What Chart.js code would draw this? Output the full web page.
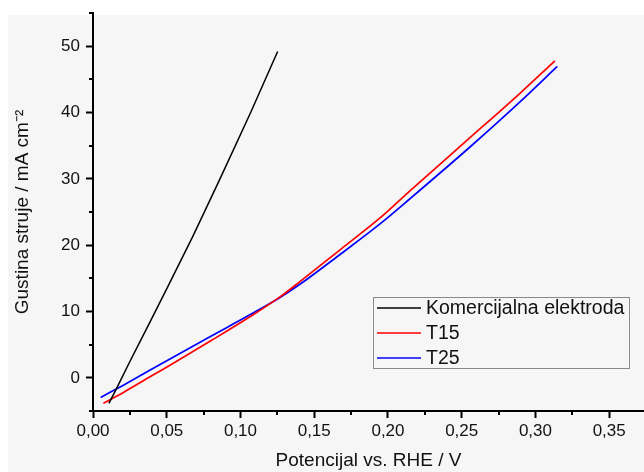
<!DOCTYPE html>
<html>
<head>
<meta charset="utf-8">
<script src="https://cdn.jsdelivr.net/npm/chart.js@4.4.1/dist/chart.umd.min.js"></script>
<style>
  html, body { margin: 0; padding: 0; background: #fff; }
  #wrap { width: 644px; height: 472px; position: relative; }
</style>
</head>
<body>
<div id="wrap"><canvas id="myChart" width="644" height="472"></canvas></div>
<script>
// series (potential in V, current density in mA cm-2)
const seriesNames = ['Komercijalna elektroda', 'T15', 'T25'];
const seriesColors = ['#000000', '#ff0000', '#0000ff'];

const komPotential = [0.0108, 0.016, 0.0251, 0.0386, 0.0504, 0.0676, 0.0861, 0.1069, 0.1252];
const komCurrent   = [-3.85, -1.6, 2.5, 8.4, 13.6, 21.3, 30.0, 40.0, 49.2];

const t15Potential = [0.0070, 0.0206, 0.0398, 0.0522, 0.0793, 0.1064, 0.1268, 0.1403, 0.1675, 0.1946, 0.2149, 0.2556, 0.2895, 0.3132];
const t15Current   = [-3.85, -2.2, 0.3, 1.9, 5.5, 9.2, 12.2, 14.5, 19.3, 24.1, 28.2, 36.2, 42.9, 47.8];

const t25Potential = [0.0052, 0.0206, 0.0319, 0.0522, 0.0793, 0.1064, 0.1268, 0.1403, 0.1675, 0.1946, 0.2149, 0.2556, 0.2895, 0.3148];
const t25Current   = [-2.95, -1.1, 0.3, 2.85, 6.2, 9.5, 12.1, 14.1, 18.6, 23.2, 27.0, 34.8, 41.6, 46.95];

// axis ticks (major ones get labels, the rest are minor)
const xTickValues = [0, 0.025, 0.05, 0.075, 0.1, 0.125, 0.15, 0.175, 0.2, 0.225, 0.25, 0.275, 0.3, 0.325, 0.35];
const xMajorTicks = [0, 0.05, 0.1, 0.15, 0.2, 0.25, 0.3, 0.35];
const yTickValues = [-5, 0, 5, 10, 15, 20, 25, 30, 35, 40, 45, 50, 55];
const yMajorTicks = [0, 10, 20, 30, 40, 50];

const xTitle = 'Potencijal vs. RHE / V';
const yTitle = 'Gustina struje / mA cm\u207B\u00B2';

function toPoints(xs, ys) {
  return xs.map((x, i) => ({ x: x, y: ys[i] }));
}
function isMajor(list, v) {
  return list.some(m => Math.abs(m - v) < 1e-9);
}

const FONT = 'Liberation Sans, Arial, sans-serif';

// light grey backdrop like the exported figure
const backdrop = {
  id: 'backdrop',
  beforeDraw(chart) {
    const ctx = chart.ctx;
    ctx.save();
    ctx.fillStyle = '#f6f6f6';
    ctx.fillRect(8, 15, chart.width - 8, chart.height - 15);
    ctx.restore();
  }
};

// short outward minor ticks
const minorTicks = {
  id: 'minorTicks',
  afterDraw(chart) {
    const ctx = chart.ctx;
    const xs = chart.scales.x, ys = chart.scales.y;
    ctx.save();
    ctx.strokeStyle = '#000';
    ctx.lineWidth = 2;
    ctx.beginPath();
    xTickValues.forEach(v => {
      if (isMajor(xMajorTicks, v)) return;
      const px = Math.round(xs.getPixelForValue(v));
      ctx.moveTo(px, xs.top);
      ctx.lineTo(px, xs.top + 4);
    });
    yTickValues.forEach(v => {
      if (isMajor(yMajorTicks, v)) return;
      const py = Math.round(ys.getPixelForValue(v));
      ctx.moveTo(ys.right, py);
      ctx.lineTo(ys.right - 4, py);
    });
    ctx.stroke();
    ctx.restore();
  }
};

// boxed legend inside the plot, lower right
const boxLegend = {
  id: 'boxLegend',
  afterDatasetsDraw(chart) {
    const ctx = chart.ctx;
    const area = chart.chartArea;
    const x0 = area.left + 280, y0 = area.top + 284;
    const w = 256, h = 71;
    ctx.save();
    ctx.fillStyle = '#f6f6f6';
    ctx.fillRect(x0, y0, w, h);
    ctx.strokeStyle = '#8a8a8a';
    ctx.lineWidth = 1;
    ctx.strokeRect(x0 + 0.5, y0 + 0.5, w, h);
    ctx.font = '19.5px ' + FONT;
    ctx.textBaseline = 'middle';
    chart.data.datasets.forEach((ds, i) => {
      const yy = y0 + 11 + i * 25;
      ctx.strokeStyle = ds.borderColor;
      ctx.lineWidth = 1.6;
      ctx.beginPath();
      ctx.moveTo(x0 + 4, yy);
      ctx.lineTo(x0 + 48, yy);
      ctx.stroke();
      ctx.fillStyle = '#111';
      ctx.fillText(ds.label, x0 + 53, yy + 1);
    });
    ctx.restore();
  }
};

const ctx = document.getElementById('myChart').getContext('2d');
const myChart = new Chart(ctx, {
  type: 'line',
  data: {
    datasets: [
      { label: seriesNames[0], data: toPoints(komPotential, komCurrent), borderColor: seriesColors[0], borderWidth: 1.5, tension: 0 },
      { label: seriesNames[1], data: toPoints(t15Potential, t15Current), borderColor: seriesColors[1], borderWidth: 1.7, cubicInterpolationMode: 'monotone' },
      { label: seriesNames[2], data: toPoints(t25Potential, t25Current), borderColor: seriesColors[2], borderWidth: 1.7, cubicInterpolationMode: 'monotone' }
    ]
  },
  options: {
    responsive: false,
    animation: false,
    devicePixelRatio: 1,
    layout: { padding: { top: 13, right: 0, left: 0, bottom: 0 } },
    elements: { point: { radius: 0 } },
    plugins: { legend: { display: false }, tooltip: { enabled: false } },
    scales: {
      x: {
        type: 'linear',
        min: 0,
        max: 0.3736,
        afterBuildTicks: s => { s.ticks = xTickValues.map(v => ({ value: v })); },
        afterFit: s => { s.height = 61; s.paddingLeft = 0; s.paddingRight = 0; },
        grid: {
          drawOnChartArea: false,
          tickLength: 7,
          tickWidth: 2,
          tickColor: c => isMajor(xMajorTicks, c.tick.value) ? '#000' : 'rgba(0,0,0,0)'
        },
        border: { display: true, color: '#000', width: 2 },
        ticks: {
          padding: 3,
          maxRotation: 0,
          autoSkip: false,
          color: '#111',
          font: { family: FONT, size: 17 },
          callback: v => isMajor(xMajorTicks, v) ? v.toFixed(2).replace('.', ',') : ''
        },
        title: {
          display: true,
          text: xTitle,
          color: '#111',
          font: { family: FONT, size: 19 },
          padding: { top: 0, bottom: 0 }
        }
      },
      y: {
        min: -5,
        max: 55,
        afterBuildTicks: s => { s.ticks = yTickValues.map(v => ({ value: v })); },
        afterFit: s => { s.width = 93; s.paddingTop = 0; s.paddingBottom = 0; },
        grid: {
          drawOnChartArea: false,
          tickLength: 7,
          tickWidth: 2,
          tickColor: c => isMajor(yMajorTicks, c.tick.value) ? '#000' : 'rgba(0,0,0,0)'
        },
        border: { display: true, color: '#000', width: 2 },
        ticks: {
          padding: 6,
          autoSkip: false,
          color: '#111',
          font: { family: FONT, size: 17 },
          callback: v => isMajor(yMajorTicks, v) ? String(v) : ''
        },
        title: {
          display: true,
          text: yTitle,
          color: '#111',
          font: { family: FONT, size: 19 },
          padding: { top: 11, bottom: 0 }
        }
      }
    }
  },
  plugins: [backdrop, minorTicks, boxLegend]
});
</script>
</body>
</html>
